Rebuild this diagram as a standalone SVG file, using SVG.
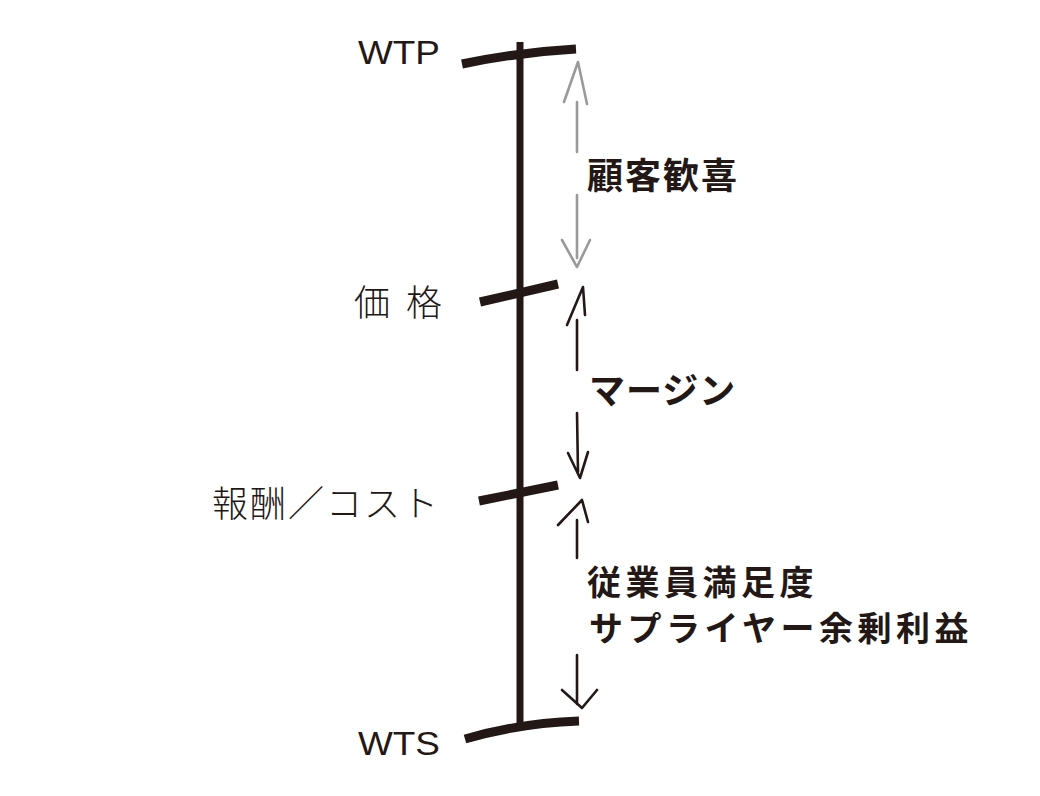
<svg xmlns="http://www.w3.org/2000/svg" width="1040" height="796" viewBox="0 0 1040 796">
<style>
.bar{fill:none;stroke:#231815;stroke-width:9;stroke-linecap:butt}
.axis{fill:none;stroke:#231815;stroke-width:7}
.arr{fill:none;stroke:#231815;stroke-width:2.6;stroke-linecap:round;stroke-linejoin:round}
.garr{fill:none;stroke:#9a9a9a;stroke-width:2.6;stroke-linecap:round;stroke-linejoin:round}
.lat{font-family:"Liberation Sans","Noto Sans",sans-serif;font-size:33px;fill:#231815}
.lbl{font-family:"Noto Sans CJK JP",sans-serif;font-size:36px;fill:#231815;font-weight:300}
.bld{font-family:"Noto Sans CJK JP",sans-serif;font-size:36px;fill:#231815;font-weight:700}
.bld2{font-family:"Noto Sans CJK JP",sans-serif;font-size:34px;fill:#231815;font-weight:700}
</style>
<rect width="1040" height="796" fill="#ffffff"/>
<g id="axis">
<path class="axis" d="M520,42 L520,729"/>
</g>
<g id="wtp">
<path class="bar" d="M462,64 Q520,52 576,49"/>
<text class="lat" x="358" y="64" textLength="82" lengthAdjust="spacingAndGlyphs">WTP</text>
</g>
<g id="price">
<path class="bar" d="M480,302 L558,284"/>
<text class="lbl" x="354" y="316" letter-spacing="4">価 格</text>
</g>
<g id="cost">
<path class="bar" d="M479,501 L558,485"/>
<text class="lbl" x="212" y="517" letter-spacing="2">報酬／コスト</text>
</g>
<g id="wts">
<path class="bar" d="M465,739 Q520,723 579,721"/>
<text class="lat" x="358" y="755" textLength="82" lengthAdjust="spacingAndGlyphs">WTS</text>
</g>
<g id="connectors">
<path class="garr" d="M564,102 L578,62 L587,104 M577,102 L577,152 M577,195 L577,258 M562,240 L577,267 L590,240"/>
<path class="arr" d="M567,325 L583,287 L585,315 M577,320 L577,370 M577,413 L578,472 M568,453 L580,478 L588,452"/>
<path class="arr" d="M558,525 L582,500 L588,522 M577,520 L577,558 M577,655 L577,704 M562,690 L582,708 L597,690"/>
</g>
<g id="labels">
<text class="bld" x="587" y="189" letter-spacing="2">顧客歓喜</text>
<text class="bld" x="589" y="404" letter-spacing="1">マージン</text>
<text class="bld2" x="587" y="595" letter-spacing="4.5">従業員満足度</text>
<text class="bld2" x="589" y="641" letter-spacing="4.5">サプライヤー余剰利益</text>
</g>
</svg>
